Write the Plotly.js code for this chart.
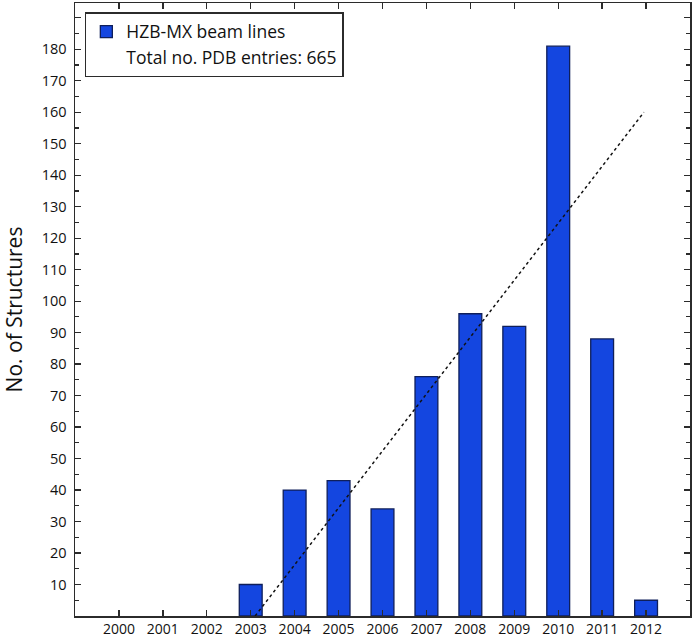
<!DOCTYPE html>
<html>
<head>
<meta charset="utf-8">
<script src="https://cdn.plot.ly/plotly-3.0.1.min.js"></script>
<style>
  html, body { margin: 0; padding: 0; background: #fff; }
  #chart { width: 692px; height: 639px; }
</style>
</head>
<body>
<div id="chart"></div>
<script>
// Structures per year
var years = [2003, 2004, 2005, 2006, 2007, 2008, 2009, 2010, 2011, 2012];
var counts = [10, 40, 43, 34, 76, 96, 92, 181, 88, 5];

// dotted trend line end points
var trendX = [2003.1, 2011.95];
var trendY = [0, 160];

var xTicks = [2000, 2001, 2002, 2003, 2004, 2005, 2006, 2007, 2008, 2009, 2010, 2011, 2012];
var yTicks = [0, 10, 20, 30, 40, 50, 60, 70, 80, 90, 100, 110, 120, 130, 140, 150, 160, 170, 180, 190];
var yLabels = ['', '10', '20', '30', '40', '50', '60', '70', '80', '90', '100', '110', '120', '130', '140', '150', '160', '170', '180', ''];

var axisColor = '#2b2b2b';
var font = 'Open Sans, sans-serif';

var bars = {
  x: years,
  y: counts,
  type: 'bar',
  width: 0.52,
  marker: {
    color: '#1446e0',
    line: {color: '#0f1f5a', width: 1.3}
  },
  name: 'HZB-MX beam lines',
  hoverinfo: 'x+y'
};

var total = {
  x: [null],
  y: [null],
  type: 'scatter',
  mode: 'lines',
  line: {color: 'rgba(0,0,0,0)', width: 0},
  name: 'Total no. PDB entries: 665'
};

var trend = {
  x: trendX,
  y: trendY,
  type: 'scatter',
  mode: 'lines',
  line: {color: '#111', width: 1.5, dash: 'dot'},
  showlegend: false,
  hoverinfo: 'skip'
};

var layout = {
  width: 692,
  height: 639,
  margin: {l: 75, r: 2, t: 3, b: 23},
  paper_bgcolor: '#fff',
  plot_bgcolor: '#fff',
  font: {family: font, size: 14, color: '#111'},
  showlegend: true,
  legend: {
    x: 0.016, y: 0.985,
    xanchor: 'left', yanchor: 'top',
    bgcolor: '#fff',
    bordercolor: axisColor,
    borderwidth: 1.5,
    font: {family: font, size: 17.5, color: '#111'},
    itemwidth: 30,
    tracegroupgap: 0
  },
  xaxis: {
    range: [1999, 2013],
    tickvals: xTicks,
    ticks: 'inside',
    ticklen: 6,
    tickwidth: 1.3,
    tickcolor: axisColor,
    showline: true,
    linecolor: axisColor,
    linewidth: 1.5,
    mirror: 'ticks',
    showgrid: false,
    zeroline: false,
    ticklabelstandoff: 0,
    tickfont: {family: font, size: 14}
  },
  yaxis: {
    range: [0, 194.7],
    tickvals: yTicks,
    ticktext: yLabels,
    ticks: 'inside',
    ticklen: 6,
    tickwidth: 1.3,
    tickcolor: axisColor,
    minor: {dtick: 5, ticks: 'inside', ticklen: 4, tickcolor: axisColor, tickwidth: 1.2},
    showline: true,
    linecolor: axisColor,
    linewidth: 1.5,
    mirror: 'ticks',
    showgrid: false,
    zeroline: false,
    ticklabelstandoff: 4,
    tickfont: {family: font, size: 14.5},
    title: {text: 'No. of Structures', font: {family: font, size: 21, color: '#111'}, standoff: 14}
  }
};

Plotly.newPlot('chart', [bars, total, trend], layout, {displayModeBar: false, staticPlot: true});
</script>
</body>
</html>
